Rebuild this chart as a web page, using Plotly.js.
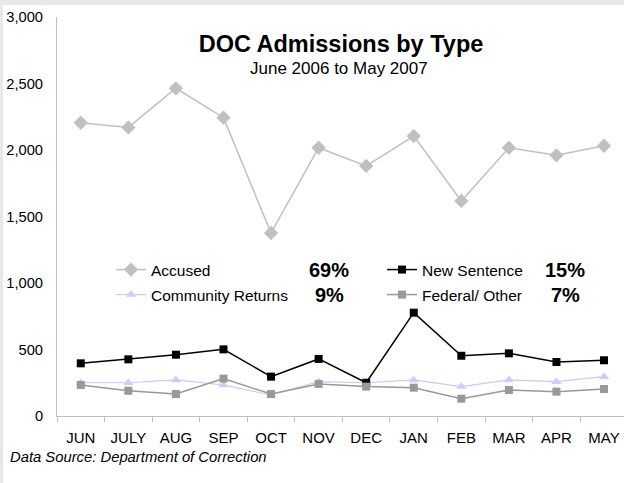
<!DOCTYPE html>
<html>
<head>
<meta charset="utf-8">
<script src="https://cdn.plot.ly/plotly-3.0.1.min.js"></script>
<style>
html,body{margin:0;padding:0;background:#e8e8e8;width:624px;height:483px;overflow:hidden;}
#chart{position:absolute;left:3px;top:5px;width:621px;height:478px;background:#fff;}
</style>
</head>
<body>
<div id="chart"></div>
<script>
const months = ["JUN","JULY","AUG","SEP","OCT","NOV","DEC","JAN","FEB","MAR","APR","MAY"];
const accused = [2205,2170,2464,2243,1376,2017,1880,2105,1617,2017,1960,2032];
const newSentence = [396,426,461,501,296,429,250,777,453,471,406,419];
const communityReturns = [250,250,271,233,158,258,250,271,221,271,258,296];
const federalOther = [233,190,165,281,165,241,221,213,130,195,183,203];
const seriesNames = ["Accused","Community Returns","New Sentence","Federal/ Other"];
const shares = ["69%","9%","15%","7%"];

const FONT = "Arial, 'Liberation Sans', sans-serif";
const W = 621, H = 478;
const ml = 54, mt = 12, mb = 67, mr = 0;
const pw = W - ml - mr, ph = H - mt - mb;
const px = v => (v - ml) / pw;
const py = v => (H - mb - v) / ph;

const traces = [
  {x: months, y: accused, name: seriesNames[0], type: "scatter", mode: "lines+markers",
   line: {color: "#c0c0c0", width: 1.5}, marker: {symbol: "diamond", size: 11, color: "#c0c0c0"}, legend: "legend"},
  {x: months, y: communityReturns, name: seriesNames[1], type: "scatter", mode: "lines+markers",
   line: {color: "#c8c8ff", width: 1.2}, marker: {symbol: "triangle-up", size: 9, color: "#ccccff"}, legend: "legend2"},
  {x: months, y: newSentence, name: seriesNames[2], type: "scatter", mode: "lines+markers",
   line: {color: "#000000", width: 1.5}, marker: {symbol: "square", size: 8, color: "#000000"}, legend: "legend3"},
  {x: months, y: federalOther, name: seriesNames[3], type: "scatter", mode: "lines+markers",
   line: {color: "#999999", width: 1.5}, marker: {symbol: "square", size: 8, color: "#999999"}, legend: "legend4"}
];

const legBase = {font: {family: FONT, size: 15.5, color: "#000"}, bgcolor: "rgba(0,0,0,0)", borderwidth: 0,
  xanchor: "left", yanchor: "middle", itemclick: false, itemdoubleclick: false};
const row1 = py(265), row2 = py(290);
const colA = px(108), colB = px(379);

const layout = {
  width: W, height: H,
  margin: {l: ml, r: mr, t: mt, b: mb, pad: 0},
  paper_bgcolor: "#ffffff", plot_bgcolor: "#ffffff",
  font: {family: FONT, size: 15, color: "#000"},
  hovermode: false,
  title: {text: "<b>DOC Admissions by Type</b>", font: {family: FONT, size: 23.5, color: "#000"},
          x: 338 / W, xref: "container", xanchor: "center", y: 1 - 39 / H, yref: "container", yanchor: "middle"},
  xaxis: {type: "category", categoryorder: "array", categoryarray: months, range: [-0.5, 11.42],
          showgrid: false, zeroline: false, showline: true, linecolor: "#c0c0c0", linewidth: 1,
          ticks: "outside", tickson: "boundaries", ticklen: 5, tickcolor: "#c0c0c0", tickwidth: 1,
          ticklabelstandoff: 8,
          tickfont: {family: FONT, size: 15, color: "#000"}, fixedrange: true},
  yaxis: {range: [0, 3000], tickvals: [0,500,1000,1500,2000,2500,3000], tickformat: ",d",
          showgrid: false, zeroline: false, showline: true, linecolor: "#c0c0c0", linewidth: 1,
          ticks: "", ticklabelstandoff: 10,
          tickfont: {family: FONT, size: 14.7, color: "#000"}, fixedrange: true},
  legend:  Object.assign({}, legBase, {x: colA, y: row1}),
  legend2: Object.assign({}, legBase, {x: colA, y: row2}),
  legend3: Object.assign({}, legBase, {x: colB, y: row1}),
  legend4: Object.assign({}, legBase, {x: colB, y: row2}),
  showlegend: true,
  annotations: [
    {text: "June 2006 to May 2007", x: px(336), y: py(63), xref: "paper", yref: "paper", showarrow: false,
     xanchor: "center", yanchor: "middle", font: {family: FONT, size: 17, color: "#000"}},
    {text: "<b>" + shares[0] + "</b>", x: px(326), y: row1, xref: "paper", yref: "paper", showarrow: false,
     xanchor: "center", yanchor: "middle", font: {family: FONT, size: 20, color: "#000"}},
    {text: "<b>" + shares[1] + "</b>", x: px(326), y: row2, xref: "paper", yref: "paper", showarrow: false,
     xanchor: "center", yanchor: "middle", font: {family: FONT, size: 20, color: "#000"}},
    {text: "<b>" + shares[2] + "</b>", x: px(562), y: row1, xref: "paper", yref: "paper", showarrow: false,
     xanchor: "center", yanchor: "middle", font: {family: FONT, size: 20, color: "#000"}},
    {text: "<b>" + shares[3] + "</b>", x: px(562), y: row2, xref: "paper", yref: "paper", showarrow: false,
     xanchor: "center", yanchor: "middle", font: {family: FONT, size: 20, color: "#000"}},
    {text: "<i>Data Source: Department of Correction</i>", x: px(5), y: py(452), xref: "paper", yref: "paper",
     showarrow: false, xanchor: "left", yanchor: "middle", font: {family: FONT, size: 14.8, color: "#000"}}
  ]
};

Plotly.newPlot("chart", traces, layout, {displayModeBar: false, staticPlot: true});
</script>
</body>
</html>
